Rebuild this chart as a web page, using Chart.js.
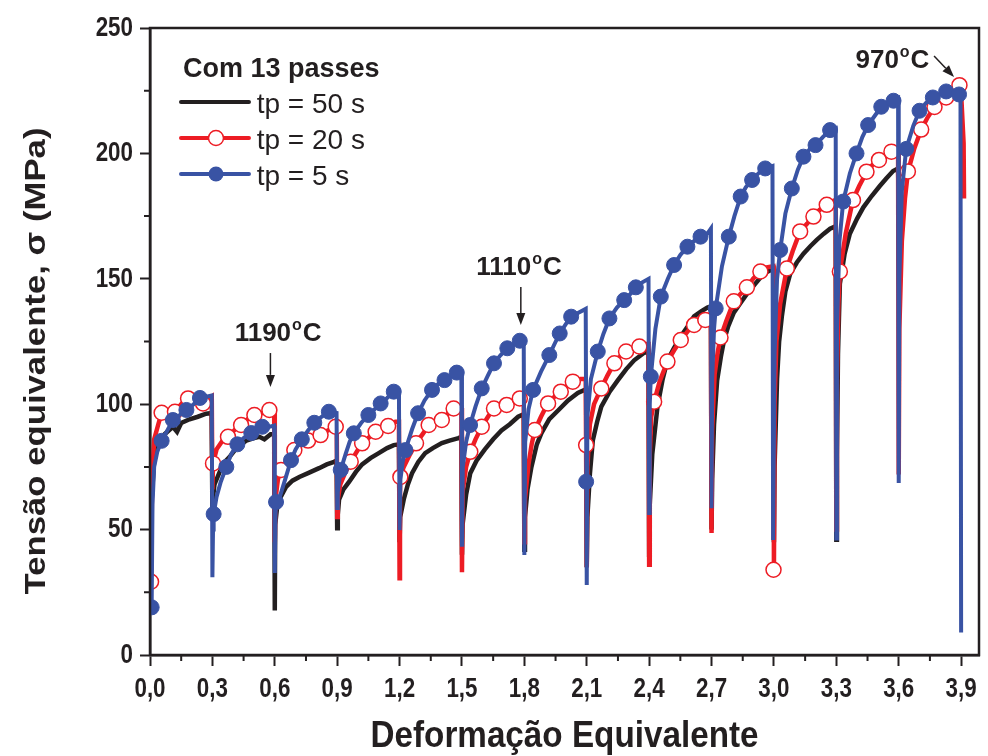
<!DOCTYPE html>
<html>
<head>
<meta charset="utf-8">
<script src="https://cdn.jsdelivr.net/npm/chart.js@4/dist/chart.umd.min.js"></script>
<style>
  html, body { margin: 0; padding: 0; background: #fff; }
  #wrap { position: relative; width: 988px; height: 756px; }
</style>
</head>
<body>
<div id="wrap"><canvas id="chart"></canvas></div>
<script>
// tp = 50 s (black, no markers), [strain, stress MPa]
const tp50Curve = [
  [0.003, 25], [0.008, 62], [0.02, 78], [0.04, 84], [0.07, 88], [0.11, 91], [0.13, 89], [0.15, 92.5], [0.19, 94], [0.23, 95], [0.27, 96.2], [0.296, 96.5], [0.3, 58],
  [0.302, 62], [0.31, 68], [0.335, 73], [0.36, 77], [0.383, 79], [0.42, 83], [0.463, 85.5], [0.5, 86.5], [0.526, 87], [0.55, 86], [0.58, 88], [0.597, 88], [0.6, 17.7],
  [0.602, 52], [0.61, 58], [0.622, 62], [0.654, 67], [0.685, 69.5], [0.718, 71], [0.76, 72.5], [0.813, 74.5], [0.85, 76], [0.885, 77], [0.897, 77.5], [0.9, 50.5],
  [0.903, 56], [0.909, 62], [0.93, 66], [0.957, 69], [0.99, 73], [1.02, 76], [1.06, 78.5], [1.1, 80.5], [1.14, 82.5], [1.172, 83.7], [1.197, 84], [1.2, 45],
  [1.203, 55], [1.22, 62], [1.24, 68], [1.26, 72.5], [1.29, 77], [1.323, 80.5], [1.36, 82.5], [1.403, 84.5], [1.44, 85.5], [1.483, 86.5], [1.497, 87], [1.5, 40],
  [1.503, 52], [1.52, 64], [1.54, 72.5], [1.57, 77.5], [1.61, 82], [1.65, 86], [1.69, 89.5], [1.73, 92], [1.77, 95], [1.797, 96], [1.8, 42],
  [1.803, 55], [1.815, 66], [1.834, 75], [1.86, 84], [1.882, 88.5], [1.92, 94], [1.962, 97.5], [2.01, 101.5], [2.057, 104.5], [2.097, 106], [2.1, 35],
  [2.103, 55], [2.115, 72], [2.129, 85.5], [2.15, 93], [2.17, 99], [2.21, 105], [2.249, 109.5], [2.29, 114], [2.328, 117.5], [2.376, 120.5], [2.397, 121], [2.4, 40],
  [2.403, 60], [2.415, 80], [2.44, 99], [2.465, 110], [2.488, 117.5], [2.52, 122.5], [2.552, 127], [2.585, 131], [2.616, 135], [2.65, 137], [2.68, 138.5], [2.697, 139], [2.7, 50],
  [2.703, 70], [2.712, 92], [2.727, 109.5], [2.745, 119], [2.76, 125.5], [2.78, 131], [2.807, 136.5], [2.84, 140.5], [2.87, 144], [2.91, 148], [2.95, 152], [2.997, 154], [3.0, 45],
  [3.003, 75], [3.015, 110], [3.025, 125], [3.038, 135], [3.055, 145], [3.078, 152], [3.11, 156.5], [3.142, 160], [3.175, 163], [3.206, 165.5], [3.24, 168], [3.27, 170], [3.297, 171], [3.3, 46],
  [3.303, 80], [3.308, 120], [3.317, 148], [3.34, 160], [3.365, 168], [3.4, 174], [3.43, 178.5], [3.47, 183], [3.509, 187], [3.54, 190], [3.573, 193], [3.597, 194], [3.603, 160]
];

// tp = 20 s (red, open circles)
const tp20Curve = [
  [0.005, 29], [0.01, 70], [0.02, 86], [0.04, 92], [0.056, 96.5], [0.09, 97.5], [0.12, 97], [0.15, 100], [0.183, 102], [0.22, 101], [0.255, 100.5], [0.28, 102], [0.297, 103], [0.3, 66],
  [0.303, 76.5], [0.32, 82], [0.345, 85], [0.375, 87], [0.41, 90], [0.438, 92], [0.47, 94], [0.502, 95.5], [0.54, 96.5], [0.574, 97.5], [0.597, 97.5], [0.6, 45],
  [0.603, 62], [0.615, 70], [0.63, 74], [0.66, 78], [0.694, 82], [0.73, 84], [0.76, 85.5], [0.79, 87], [0.82, 88], [0.855, 89.5], [0.893, 91], [0.898, 91], [0.9, 55],
  [0.903, 62], [0.915, 68], [0.94, 73], [0.965, 77], [0.99, 80.5], [1.02, 84.5], [1.05, 86.5], [1.085, 89], [1.115, 90], [1.145, 91.5], [1.18, 93], [1.197, 93], [1.2, 30.6],
  [1.202, 65], [1.204, 71], [1.22, 75], [1.25, 80], [1.279, 84.5], [1.31, 88], [1.34, 91.5], [1.37, 93], [1.403, 94], [1.43, 96], [1.46, 98], [1.497, 98.5], [1.5, 33],
  [1.503, 65], [1.52, 75], [1.54, 81], [1.565, 86], [1.595, 91], [1.625, 95], [1.654, 98.5], [1.685, 99.5], [1.715, 100], [1.745, 101], [1.778, 102.5], [1.797, 103], [1.8, 45],
  [1.803, 62], [1.82, 76], [1.835, 84], [1.85, 89.5], [1.88, 95], [1.914, 100.5], [1.945, 103], [1.975, 105], [2.005, 107], [2.033, 109], [2.07, 110], [2.095, 110], [2.1, 35],
  [2.103, 75], [2.115, 92], [2.135, 100], [2.17, 106.5], [2.2, 111.5], [2.233, 116.5], [2.26, 119], [2.289, 121], [2.32, 122], [2.353, 123], [2.385, 124], [2.397, 124], [2.4, 36],
  [2.403, 80], [2.41, 95], [2.424, 101], [2.45, 109], [2.488, 117], [2.52, 121.5], [2.552, 125.5], [2.585, 129], [2.616, 131.5], [2.645, 133], [2.67, 133.5], [2.697, 134], [2.7, 48.6],
  [2.703, 90], [2.715, 112], [2.73, 121], [2.743, 126.5], [2.77, 133], [2.807, 141], [2.84, 144], [2.87, 146.5], [2.9, 150], [2.935, 153], [2.96, 154.5], [2.997, 155], [3.0, 34],
  [3.003, 100], [3.012, 125], [3.03, 140], [3.062, 154], [3.09, 161], [3.126, 169], [3.16, 172], [3.19, 175], [3.22, 177.5], [3.254, 179.5], [3.285, 181], [3.297, 181.5], [3.3, 50],
  [3.303, 110], [3.31, 140], [3.317, 153], [3.345, 168], [3.38, 181.5], [3.41, 187], [3.445, 192.5], [3.475, 195.5], [3.505, 197.5], [3.535, 199], [3.565, 200.5], [3.597, 201], [3.6, 72],
  [3.603, 130], [3.615, 165], [3.63, 182], [3.644, 192.5], [3.675, 202], [3.708, 209.5], [3.74, 214.5], [3.772, 218.5], [3.8, 220.5], [3.828, 222.5], [3.86, 224.5], [3.892, 227], [3.9, 224], [3.912, 204], [3.914, 182]
];
const tp20Marks = [
  [0.005, 29.2], [0.056, 96.6], [0.12, 97], [0.183, 102.3], [0.255, 100.3],
  [0.303, 76.4], [0.375, 87], [0.438, 91.7], [0.502, 95.7], [0.574, 97.7],
  [0.63, 73.8], [0.694, 81.7], [0.76, 85.5], [0.82, 87.7], [0.893, 91],
  [0.965, 77.1], [1.02, 84.4], [1.085, 89], [1.145, 91.3],
  [1.204, 71], [1.279, 84.4], [1.34, 91.7], [1.403, 93.7], [1.46, 98.3],
  [1.54, 81], [1.595, 91], [1.654, 98.3], [1.715, 99.7], [1.778, 102.3],
  [1.85, 89.7], [1.914, 100.3], [1.975, 105], [2.033, 109], [2.097, 83.7],
  [2.17, 106.3], [2.233, 116.3], [2.289, 121], [2.353, 123],
  [2.424, 101], [2.488, 117], [2.552, 125.6], [2.616, 131.6], [2.67, 133.6],
  [2.743, 126.6], [2.807, 141], [2.87, 146.6], [2.935, 152.9], [2.998, 34],
  [3.062, 154.1], [3.126, 168.9], [3.19, 174.8], [3.254, 179.5],
  [3.317, 152.9], [3.38, 181.4], [3.445, 192.7], [3.505, 197.4], [3.565, 200.7],
  [3.644, 192.8], [3.708, 209.5], [3.772, 218.5], [3.828, 222.3], [3.892, 227.2]
];

// tp = 5 s (blue, filled circles)
const tp5Curve = [
  [0.008, 19], [0.012, 60], [0.02, 75], [0.035, 81], [0.056, 85.4], [0.08, 89], [0.11, 93.7], [0.14, 95.5], [0.175, 97.7], [0.21, 100], [0.24, 102.5], [0.27, 103], [0.297, 103.5], [0.3, 31],
  [0.303, 50], [0.306, 56.2], [0.32, 63], [0.34, 69], [0.367, 75], [0.39, 80], [0.42, 84], [0.45, 86.5], [0.487, 88.5], [0.515, 90], [0.54, 91], [0.575, 91], [0.597, 91.5], [0.6, 32.7],
  [0.603, 55], [0.606, 61], [0.62, 62], [0.65, 70], [0.678, 77.7], [0.7, 82], [0.73, 86], [0.76, 89.5], [0.79, 92.6], [0.825, 95], [0.86, 97], [0.897, 96.5], [0.9, 58.6],
  [0.903, 65], [0.917, 73.8], [0.94, 80], [0.96, 85], [0.98, 88.4], [1.015, 92.5], [1.05, 95.7], [1.08, 98], [1.109, 100.3], [1.14, 102.5], [1.172, 105], [1.197, 105.5], [1.2, 49.8],
  [1.204, 70], [1.215, 77], [1.228, 81.7], [1.26, 90], [1.289, 96.4], [1.32, 101.5], [1.356, 105.7], [1.385, 108], [1.416, 109.6], [1.445, 111], [1.475, 112.6], [1.497, 113], [1.5, 43.2],
  [1.504, 75], [1.52, 85], [1.539, 91.7], [1.565, 99], [1.595, 106.3], [1.625, 111.5], [1.654, 116.3], [1.685, 119.5], [1.718, 122.3], [1.75, 124], [1.778, 125.3], [1.797, 125.5], [1.8, 39.9],
  [1.804, 85], [1.82, 98], [1.842, 105.7], [1.88, 113], [1.92, 119.6], [1.945, 124], [1.97, 128.2], [2.0, 132], [2.025, 134.9], [2.06, 136.5], [2.095, 138], [2.1, 27.9],
  [2.103, 95], [2.12, 110], [2.153, 121], [2.18, 128], [2.209, 134.2], [2.245, 138.5], [2.28, 141.5], [2.31, 144], [2.336, 146.6], [2.365, 148.5], [2.397, 150], [2.4, 56.6],
  [2.403, 100], [2.408, 111], [2.43, 130], [2.456, 142.9], [2.49, 150], [2.52, 155.5], [2.55, 159.5], [2.584, 162.8], [2.615, 165], [2.647, 166.8], [2.68, 168], [2.697, 170], [2.7, 58.5],
  [2.703, 110], [2.712, 130], [2.72, 138.2], [2.75, 155], [2.783, 166.8], [2.81, 175], [2.84, 182.8], [2.865, 186.5], [2.895, 189.4], [2.925, 192], [2.958, 194], [2.993, 195], [2.996, 45.9],
  [3.003, 120], [3.015, 150], [3.03, 161.5], [3.055, 176], [3.086, 186], [3.115, 193.5], [3.142, 198.7], [3.17, 201.5], [3.2, 203.3], [3.235, 206.5], [3.27, 209.3], [3.297, 210], [3.3, 46.5],
  [3.303, 130], [3.315, 165], [3.333, 180.8], [3.365, 192], [3.397, 200], [3.425, 206.5], [3.453, 211.3], [3.485, 215], [3.516, 218.6], [3.545, 220], [3.575, 221], [3.597, 222], [3.6, 68.6],
  [3.603, 150], [3.615, 185], [3.636, 201.8], [3.67, 211], [3.7, 217], [3.73, 220], [3.764, 222.3], [3.795, 223.5], [3.828, 224.7], [3.86, 224], [3.89, 223.5], [3.897, 223], [3.9, 9]
];
const tp5Marks = [
  [0.008, 19], [0.056, 85.4], [0.11, 93.7], [0.175, 97.7], [0.24, 102.5],
  [0.306, 56.2], [0.367, 75], [0.42, 84], [0.487, 88.5], [0.54, 91],
  [0.606, 61], [0.678, 77.7], [0.73, 86], [0.79, 92.6], [0.86, 97],
  [0.917, 73.8], [0.98, 88.4], [1.05, 95.7], [1.109, 100.3], [1.172, 105],
  [1.228, 81.7], [1.289, 96.4], [1.356, 105.7], [1.416, 109.6], [1.475, 112.6],
  [1.539, 91.7], [1.595, 106.3], [1.654, 116.3], [1.718, 122.3], [1.778, 125.3],
  [1.842, 105.7], [1.92, 119.6], [1.97, 128.2], [2.025, 134.9], [2.097, 69.1],
  [2.153, 121], [2.209, 134.2], [2.28, 141.5], [2.336, 146.6],
  [2.408, 111], [2.456, 142.9], [2.52, 155.5], [2.584, 162.8], [2.647, 166.8],
  [2.72, 138.2], [2.783, 166.8], [2.84, 182.8], [2.895, 189.4], [2.958, 194],
  [3.03, 161.5], [3.086, 186], [3.142, 198.7], [3.2, 203.3], [3.27, 209.3],
  [3.333, 180.8], [3.397, 200], [3.453, 211.3], [3.516, 218.6], [3.575, 221],
  [3.636, 201.8], [3.7, 217], [3.764, 222.3], [3.828, 224.7], [3.89, 223.5]
];

const xMajor = [0, 0.3, 0.6, 0.9, 1.2, 1.5, 1.8, 2.1, 2.4, 2.7, 3.0, 3.3, 3.6, 3.9];
const xMinor = [0.15, 0.45, 0.75, 1.05, 1.35, 1.65, 1.95, 2.25, 2.55, 2.85, 3.15, 3.45, 3.75];
const yMajor = [0, 50, 100, 150, 200, 250];
const yMinor = [25, 75, 125, 175, 225];

const seriesLabels = ['tp = 50 s', 'tp = 20 s', 'tp = 5 s'];
const legendTitle = 'Com 13 passes';
const xTitle = 'Deformação Equivalente';
const yTitle = 'Tensão equivalente, σ (MPa)';
const tempLabels = ['1190', '1110', '970'];

const INK = '#231f20';
const RED = '#ed1c24';
const BLUE = '#3953a4';
const BLACK = '#231f20';
const SANS = '"Liberation Sans", Arial, sans-serif';

const pts = arr => arr.map(([x, y]) => ({ x, y }));
const fmt = v => v.toFixed(1).replace('.', ',');

function fitText(ctx, text, x, y, width, angle) {
  ctx.save();
  ctx.translate(x, y);
  if (angle) ctx.rotate(angle);
  const w = ctx.measureText(text).width;
  ctx.scale(width / w, 1);
  ctx.textAlign = 'center';
  ctx.textBaseline = 'middle';
  ctx.fillText(text, 0, 0);
  ctx.restore();
}

// condensed bold label, like the narrow face of the original
function narrowText(ctx, text, x, y, align) {
  ctx.save();
  ctx.translate(x, y);
  ctx.scale(0.8, 1);
  ctx.textAlign = align;
  ctx.textBaseline = 'middle';
  ctx.fillText(text, 0, 0);
  ctx.restore();
}

function arrow(ctx, x1, y1, x2, y2) {
  const a = Math.atan2(y2 - y1, x2 - x1);
  const len = 12, hw = 4.5;
  const bx = x2 - len * Math.cos(a), by = y2 - len * Math.sin(a);
  ctx.beginPath();
  ctx.moveTo(x1, y1);
  ctx.lineTo(bx, by);
  ctx.stroke();
  ctx.beginPath();
  ctx.moveTo(x2, y2);
  ctx.lineTo(bx + hw * Math.sin(a), by - hw * Math.cos(a));
  ctx.lineTo(bx - hw * Math.sin(a), by + hw * Math.cos(a));
  ctx.closePath();
  ctx.fill();
}

function tempNote(ctx, text, x, y) {
  ctx.textAlign = 'left';
  ctx.textBaseline = 'alphabetic';
  ctx.font = 'bold 26px ' + SANS;
  ctx.fillText(text, x, y);
  const w = ctx.measureText(text).width;
  ctx.font = 'bold 16px ' + SANS;
  ctx.fillText('o', x + w + 1, y - 11);
  const ow = ctx.measureText('o').width;
  ctx.font = 'bold 26px ' + SANS;
  ctx.fillText('C', x + w + ow + 2, y);
}

const decor = {
  id: 'decor',
  afterDraw(chart) {
    const { ctx, chartArea: a, scales: { x, y } } = chart;
    ctx.save();
    ctx.strokeStyle = INK;
    ctx.fillStyle = INK;

    // frame
    ctx.lineWidth = 2.5;
    ctx.strokeRect(a.left, a.top, a.right - a.left, a.bottom - a.top);

    // minor ticks
    ctx.lineWidth = 2;
    ctx.beginPath();
    xMinor.forEach(v => {
      const px = x.getPixelForValue(v);
      ctx.moveTo(px, a.bottom); ctx.lineTo(px, a.bottom + 6);
    });
    yMinor.forEach(v => {
      const py = y.getPixelForValue(v);
      ctx.moveTo(a.left, py); ctx.lineTo(a.left - 6, py);
    });
    ctx.stroke();

    // tick labels from the scales' ticks
    ctx.font = 'bold 28px ' + SANS;
    x.ticks.forEach(t => narrowText(ctx, fmt(t.value), x.getPixelForValue(t.value), a.bottom + 34, 'center'));
    y.ticks.forEach(t => narrowText(ctx, String(t.value), a.left - 17, y.getPixelForValue(t.value), 'right'));

    // legend
    const lx = x.getPixelForValue(0.149), tx = x.getPixelForValue(0.513);
    ctx.font = 'bold 27px ' + SANS;
    ctx.textAlign = 'left';
    ctx.textBaseline = 'alphabetic';
    ctx.fillText(legendTitle, lx + 2, 77);
    const rows = [102, 138, 174];
    const cols = [BLACK, RED, BLUE];
    rows.forEach((ry, i) => {
      ctx.strokeStyle = cols[i];
      ctx.lineWidth = 4;
      ctx.lineCap = 'round';
      ctx.beginPath();
      ctx.moveTo(lx, ry); ctx.lineTo(lx + 68, ry);
      ctx.stroke();
      if (i === 1) {
        ctx.fillStyle = '#fff'; ctx.lineWidth = 1.5;
        ctx.beginPath(); ctx.arc(lx + 35, ry, 7.5, 0, Math.PI * 2); ctx.fill(); ctx.stroke();
      } else if (i === 2) {
        ctx.fillStyle = BLUE;
        ctx.beginPath(); ctx.arc(lx + 35, ry, 7.5, 0, Math.PI * 2); ctx.fill();
      }
      ctx.fillStyle = INK;
      ctx.font = '28px ' + SANS;
      ctx.fillText(seriesLabels[i], tx, ry + 11);
    });
    ctx.strokeStyle = INK;
    ctx.lineCap = 'butt';

    // temperature notes
    tempNote(ctx, tempLabels[0], x.getPixelForValue(0.407), y.getPixelForValue(125.2));
    tempNote(ctx, tempLabels[1], x.getPixelForValue(1.569), y.getPixelForValue(151.5));
    tempNote(ctx, tempLabels[2], x.getPixelForValue(3.392), y.getPixelForValue(234));
    ctx.lineWidth = 1.5;
    arrow(ctx, x.getPixelForValue(0.579), y.getPixelForValue(120.4), x.getPixelForValue(0.579), y.getPixelForValue(106.9));
    arrow(ctx, x.getPixelForValue(1.783), y.getPixelForValue(146.7), x.getPixelForValue(1.783), y.getPixelForValue(131.6));
    arrow(ctx, x.getPixelForValue(3.77), y.getPixelForValue(238.8), x.getPixelForValue(3.866), y.getPixelForValue(230.5));

    // axis titles
    ctx.fillStyle = INK;
    ctx.font = 'bold 30px ' + SANS;
    fitText(ctx, yTitle, 37, 361, 467, -Math.PI / 2);
    ctx.font = 'bold 36px ' + SANS;
    fitText(ctx, xTitle, (a.left + a.right) / 2, 737, 388, 0);
    ctx.restore();
  }
};

new Chart(document.getElementById('chart'), {
  type: 'scatter',
  data: {
    datasets: [
      { label: seriesLabels[2] + ' marks', data: pts(tp5Marks), showLine: false, pointRadius: 7.5, pointHoverRadius: 7.5,
        pointBackgroundColor: BLUE, pointBorderColor: BLUE, pointBorderWidth: 1, order: 0 },
      { label: seriesLabels[2], data: pts(tp5Curve), showLine: true, pointRadius: 0, borderColor: BLUE,
        borderWidth: 4, tension: 0, order: 1 },
      { label: seriesLabels[1] + ' marks', data: pts(tp20Marks), showLine: false, pointRadius: 7.5, pointHoverRadius: 7.5,
        pointBackgroundColor: '#fff', pointBorderColor: RED, pointBorderWidth: 1.5, order: 2 },
      { label: seriesLabels[1], data: pts(tp20Curve), showLine: true, pointRadius: 0, borderColor: RED,
        borderWidth: 4.5, tension: 0, order: 3 },
      { label: seriesLabels[0], data: pts(tp50Curve), showLine: true, pointRadius: 0, borderColor: BLACK,
        borderWidth: 4.5, tension: 0, order: 4 }
    ]
  },
  options: {
    responsive: true,
    maintainAspectRatio: false,
    animation: false,
    events: [],
    layout: { padding: { left: 0, top: 28, right: 5, bottom: 0 } },
    plugins: { legend: { display: false }, tooltip: { enabled: false } },
    scales: {
      x: {
        type: 'linear', min: 0, max: 3.986,
        afterFit: s => { s.height = 101; },
        afterBuildTicks: s => { s.ticks = xMajor.map(v => ({ value: v })); },
        grid: { drawOnChartArea: false, drawTicks: true, tickLength: 11, tickWidth: 2, tickColor: INK },
        border: { display: true, color: INK, width: 2.5 },
        ticks: { display: false, autoSkip: false, maxRotation: 0 }
      },
      y: {
        type: 'linear', min: 0, max: 250,
        afterFit: s => { s.width = 150; },
        afterBuildTicks: s => { s.ticks = yMajor.map(v => ({ value: v })); },
        grid: { drawOnChartArea: false, drawTicks: true, tickLength: 10, tickWidth: 2, tickColor: INK },
        border: { display: true, color: INK, width: 2.5 },
        ticks: { display: false }
      }
    }
  },
  plugins: [decor]
});
</script>
</body>
</html>
